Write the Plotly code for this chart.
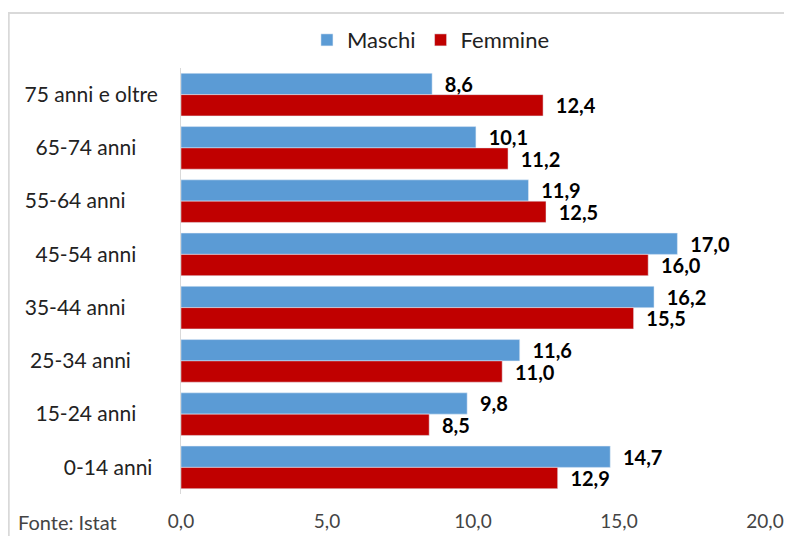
import plotly.graph_objects as go

# Dati (Istat)
classi = ["75 anni e oltre", "65-74 anni", "55-64 anni", "45-54 anni",
          "35-44 anni", "25-34 anni", "15-24 anni", "0-14 anni"]
# etichette con spazi finali come nell'originale
etichette = ["75 anni e oltre", "65-74 anni\u00a0\u00a0\u00a0\u00a0",
             "55-64 anni\u00a0\u00a0\u00a0\u00a0\u00a0\u00a0", "45-54 anni\u00a0\u00a0\u00a0\u00a0",
             "35-44 anni\u00a0\u00a0\u00a0\u00a0\u00a0\u00a0", "25-34 anni\u00a0\u00a0\u00a0\u00a0\u00a0",
             "15-24 anni\u00a0\u00a0\u00a0\u00a0", "0-14 anni\u00a0"]
maschi = [8.6, 10.1, 11.9, 17.0, 16.2, 11.6, 9.8, 14.7]
femmine = [12.4, 11.2, 12.5, 16.0, 15.5, 11.0, 8.5, 12.9]
tick_x = [0, 5, 10, 15, 20]

FONT = "Lato, Open Sans, sans-serif"


def fmt(v):
    return "\u00a0\u00a0" + f"{v:.1f}".replace(".", ",")


fig = go.Figure()
fig.add_trace(go.Bar(y=classi, x=maschi, orientation="h", name="Maschi",
                     marker_color="#5B9BD5",
                     text=[fmt(v) for v in maschi], textposition="outside",
                     constraintext="none",
                     textfont=dict(family=FONT, size=20, color="black", weight="bold"),
                     cliponaxis=False))
fig.add_trace(go.Bar(y=classi, x=femmine, orientation="h", name="Femmine",
                     marker_color="#C00000",
                     text=[fmt(v) for v in femmine], textposition="outside",
                     constraintext="none",
                     textfont=dict(family=FONT, size=20, color="black", weight="bold"),
                     cliponaxis=False))

# la pagina HTML ha un margine di 8px: figura ridotta di conseguenza
fig.update_layout(
    width=784, height=528,
    margin=dict(l=173, r=27, t=59, b=42),
    paper_bgcolor="white", plot_bgcolor="white",
    font=dict(family=FONT, size=21, color="#222222"),
    separators=",.",
    barmode="group", bargap=0.2, bargroupgap=0,
    legend=dict(orientation="h", x=0.428, xanchor="center", y=1.063, yanchor="middle",
                font=dict(size=22), bgcolor="rgba(0,0,0,0)"),
    xaxis=dict(range=[0, 20], tickvals=tick_x, tickformat=".1f", showgrid=False,
               zeroline=False, showline=False, ticks="", ticklabelstandoff=14,
               automargin=False, tickfont=dict(size=19, color="#444444")),
    yaxis=dict(categoryorder="array", categoryarray=classi, range=[7.5, -0.5],
               tickvals=classi, ticktext=etichette, automargin=False,
               showgrid=False, showline=True, linecolor="#D9D9D9", linewidth=1,
               ticks="", ticklabelstandoff=18, tickfont=dict(size=21, color="#222222")),
    showlegend=True,
)

# cornice grigia del grafico
fig.add_shape(type="rect", xref="paper", yref="paper", x0=-0.295, x1=1.2, y0=-0.3, y1=1.129,
              line=dict(color="#D9D9D9", width=2), fillcolor="rgba(0,0,0,0)", layer="below")

fig.add_annotation(text="Fonte: Istat", xref="paper", yref="paper", x=-0.283, y=-0.066,
                   xanchor="left", yanchor="middle", showarrow=False,
                   font=dict(family=FONT, size=20, color="#444444"))

fig.write_html("out.html")
